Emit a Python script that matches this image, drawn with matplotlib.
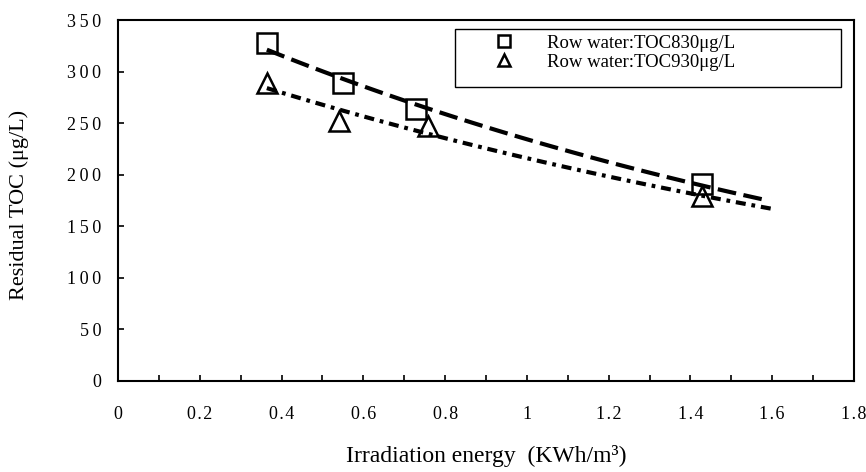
import numpy as np
import matplotlib
matplotlib.use("Agg")
from matplotlib import pyplot as plt
from matplotlib.patches import Rectangle

# data
energy_830 = [0.364, 0.55, 0.73, 1.428]
toc_830 = [328, 289, 264, 191]
energy_930 = [0.364, 0.54, 0.759, 1.428]
toc_930 = [289, 252, 247, 179]
labels = ["Row water:TOC830\u03bcg/L", "Row water:TOC930\u03bcg/L"]
trend_end = [1.58, 1.60]   # excel trendline forecast end

x_ticks = [0, 0.2, 0.4, 0.6, 0.8, 1, 1.2, 1.4, 1.6, 1.8]
x_ticklabels = ["0", "0.2", "0.4", "0.6", "0.8", "1", "1.2", "1.4", "1.6", "1.8"]
y_ticks = [0, 50, 100, 150, 200, 250, 300, 350]

plt.rcParams['font.family'] = ['Liberation Serif', 'DejaVu Serif']

def spaced(s, sp="\u2009"):
    # scanned excel labels are letter spaced
    return sp.join(s)

fig = plt.figure(figsize=(8.66, 4.72), dpi=100)
ax = fig.add_axes([0.1363, 0.1928, 0.8498, 0.7648])

series = [(energy_830, toc_830, 's', (0, (4.5, 1.8))),
          (energy_930, toc_930, '^', (0, (2.4, 1.4, 0.9, 1.4)))]

for i, (xs, ys, mk, ls) in enumerate(series):
    xs = np.array(xs)
    ys = np.array(ys)
    ax.plot(xs, ys, linestyle='none', marker=mk, ms=14, mfc='none',
            mec='black', mew=1.8, label=labels[i], zorder=3)
    # exponential trendline like excel
    b, a = np.polyfit(xs, np.log(ys), 1)
    tx = np.linspace(xs.min(), trend_end[i], 100)
    ax.plot(tx, np.exp(a + b * tx), color='black', lw=3, linestyle=ls, zorder=4)

ax.set_xlim(0, 1.8)
ax.set_ylim(0, 350)
ax.set_xticks(x_ticks)
ax.set_xticklabels([spaced(t, "\u200a") for t in x_ticklabels])
ax.set_xticks(np.arange(0.1, 1.8, 0.2), minor=True)
ax.set_yticks(y_ticks)
ax.set_yticklabels([spaced(str(t)) for t in y_ticks])
ax.tick_params(axis='x', which='both', direction='in', length=4, width=1.2, pad=18, labelsize=13)
ax.tick_params(axis='y', direction='in', length=4, width=1.2, pad=12, labelsize=13)
for s in ax.spines.values():
    s.set_linewidth(1.5)

fig.text(19 / 866, 1 - 205 / 472, "Residual TOC (\u03bcg/L)", rotation=90,
         ha='center', va='center', fontsize=16)
fig.text(486 / 866, 1 - 456 / 472, "Irradiation energy  (KWh/m\u00b3)",
         ha='center', va='center', fontsize=17)

# legend: frame drawn separately so it can be taller than the two rows
fig.patches.append(Rectangle((455 / 866, 1 - 87 / 472), 386 / 866, 58 / 472,
                             transform=fig.transFigure, fill=False,
                             edgecolor='black', lw=1.0))
leg = ax.legend(loc='upper left', bbox_to_anchor=(485 / 866, 1 - 34.5 / 472),
                bbox_transform=fig.transFigure, fontsize=13.5, markerscale=0.65,
                frameon=False, borderpad=0, borderaxespad=0, labelspacing=0.12,
                handlelength=2.0, handletextpad=1.3)

fig.savefig("out.png", dpi=100)
